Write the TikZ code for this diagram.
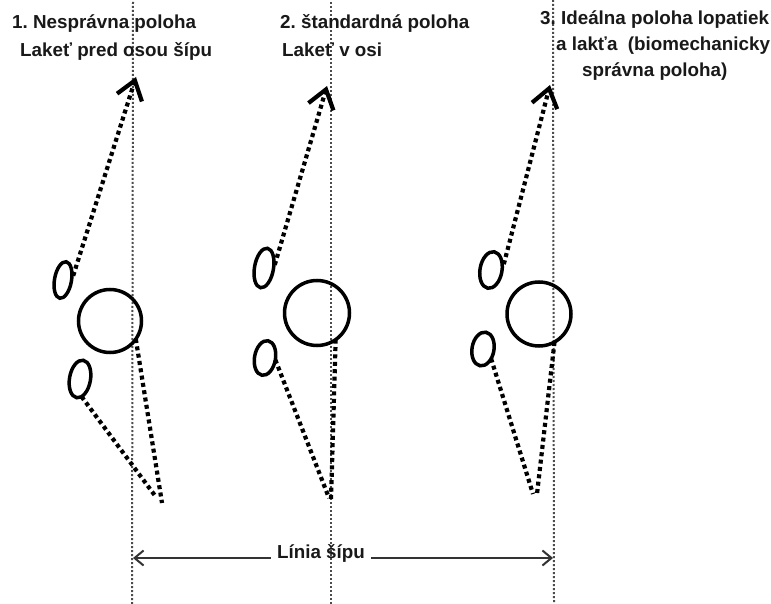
\documentclass[tikz,border=0pt]{standalone}
\usepackage{fontspec}
\setmainfont{Liberation Sans}
\usetikzlibrary{arrows.meta,shapes.geometric}
\begin{document}
\frenchspacing
\begin{tikzpicture}[x=1pt,y=-1pt,
  lbl/.style={font=\fontsize{18.8}{22}\selectfont\bfseries, text=black!90, inner sep=0pt, anchor=base west},
  guide/.style={draw=black!70, line width=2pt, dash pattern=on 2pt off 2pt},
  dotline/.style={draw=black, line width=4.2pt, dash pattern=on 4pt off 3.4pt},
  bone/.style={draw=black, line width=3.5pt, inner sep=0pt, outer sep=0pt},
  oval/.style={bone, ellipse, rotate=-10},
  ring/.style={bone, circle},
  uparrow/.style={-{Straight Barb[length=18pt,width=26pt]}},
  dimline/.style={draw=black!80, line width=2pt, -{Straight Barb[length=9pt,width=15pt]}}
]
\fill[white] (0,0) rectangle (771,604);
\useasboundingbox (0,0) rectangle (771,604);

% guide lines (arrow axes)
\coordinate (v1t) at (133,2);  \coordinate (v1b) at (132,604);
\coordinate (v2t) at (331,2);  \coordinate (v2b) at (331,604);
\coordinate (v3t) at (553,0);  \coordinate (v3b) at (554,604);
\draw[guide] (v1t) -- (v1b);
\draw[guide] (v2t) -- (v2b);
\draw[guide] (v3t) -- (v3b);

% titles
\node[lbl] (p1a) at (12,29) {1. Nesprávna poloha};
\node[lbl] (p1b) at (20,57) {Lakeť pred osou šípu};
\node[lbl] (p2a) at (280,29) {2. štandardná poloha};
\node[lbl] (p2b) at (282,57) {Lakeť v osi};
\node[lbl] (p3a) at (540,25) {3. Ideálna poloha lopatiek};
\node[lbl] (p3b) at (556,51) {a lakťa\ \ (biomechanicky};
\node[lbl] (p3c) at (582,77) {správna poloha)};

% panel 1
\node[oval, minimum width=17pt, minimum height=37pt] (e1u) at (63,280) {};
\node[oval, minimum width=21pt, minimum height=38pt] (e1l) at (80,379) {};
\node[ring, minimum size=63pt] (c1) at (110,321) {};
\coordinate (t1) at (136,77);
\coordinate (b1a) at (156,497);
\coordinate (b1b) at (162,503);
\draw[dotline, uparrow, shorten <=6pt] (e1u.east) -- (t1);
\draw[dotline] (e1l.-75) -- (b1a);
\draw[dotline] (c1.-35) -- (b1b);

% panel 2
\node[oval, minimum width=19pt, minimum height=40pt] (e2u) at (264,268) {};
\node[oval, minimum width=21pt, minimum height=35pt] (e2l) at (265,358) {};
\node[ring, minimum size=65pt] (c2) at (317,313) {};
\coordinate (t2) at (327,86);
\coordinate (b2a) at (329,498);
\coordinate (b2b) at (331,500);
\draw[dotline, uparrow, shorten <=5pt] (e2u.east) -- (t2);
\draw[dotline] (e2l.east) -- (b2a);
\draw[dotline] (c2.-55) -- (b2b);

% panel 3
\node[oval, minimum width=22pt, minimum height=37pt] (e3u) at (491,270) {};
\node[oval, minimum width=22pt, minimum height=34pt] (e3l) at (483,349) {};
\node[ring, minimum size=64pt] (c3) at (539,314) {};
\coordinate (t3) at (550,85);
\coordinate (b3a) at (533,494);
\coordinate (b3b) at (537,494);
\draw[dotline, uparrow, shorten <=8pt] (e3u.east) -- (t3);
\draw[dotline] (e3l.-40) -- (b3a);
\draw[dotline] (c3.-61) -- (b3b);

% line of the arrow
\node[lbl, anchor=base, inner xsep=6pt] (lin) at (321,558) {Línia šípu};
\coordinate (la) at (133,558);
\coordinate (ra) at (553,558);
\draw[dimline] (lin.base west) -- (la);
\draw[dimline] (lin.base east) -- (ra);
\end{tikzpicture}
\end{document}
